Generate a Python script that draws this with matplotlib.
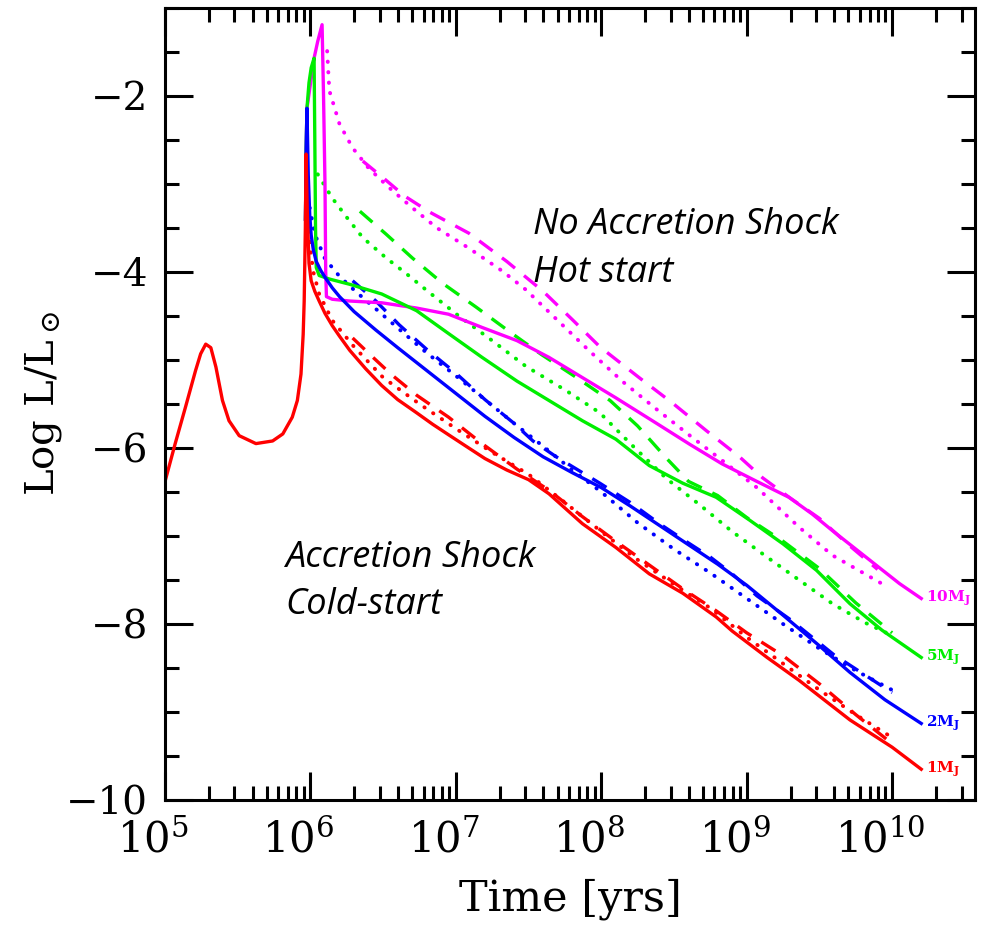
import numpy as np
import matplotlib
matplotlib.use("Agg")
import matplotlib.pyplot as plt
from matplotlib.ticker import MultipleLocator, LogLocator, NullFormatter
from matplotlib.transforms import ScaledTranslation

plt.rcParams['font.family'] = 'DejaVu Serif'
plt.rcParams['mathtext.fontset'] = 'dejavuserif'

# log10(time / yr) and log10(L/Lsun) for each track
# 1 M_J
red_solid_t = [5.005, 5.07, 5.14, 5.21, 5.245, 5.28, 5.315, 5.35, 5.395, 5.44, 5.51, 5.625,
               5.74, 5.81, 5.875, 5.91, 5.935, 5.95, 5.957, 5.965, 5.970, 5.978, 5.99,
               6.005, 6.03, 6.06, 6.1, 6.15, 6.2, 6.27, 6.38, 6.49, 6.6, 6.73, 6.84, 6.95,
               7.07, 7.2, 7.35, 7.5, 7.64, 7.87, 8.10, 8.33, 8.56, 8.79, 8.90, 9.14, 9.36,
               9.71, 10.0, 10.2]
red_solid_L = [-6.35, -5.95, -5.54, -5.12, -4.93, -4.82, -4.86, -5.08, -5.46, -5.69, -5.86,
               -5.95, -5.92, -5.84, -5.65, -5.46, -5.16, -4.71, -4.33, -3.5, -2.66, -3.3,
               -3.9, -4.1, -4.22, -4.33, -4.47, -4.61, -4.73, -4.89, -5.1, -5.29, -5.45,
               -5.6, -5.73, -5.85, -5.98, -6.12, -6.25, -6.36, -6.52, -6.86, -7.13, -7.43,
               -7.65, -7.92, -8.08, -8.38, -8.64, -9.09, -9.4, -9.65]
red_dot_t = [5.985, 6.0, 6.02, 6.06, 6.15, 6.3, 6.5, 6.75, 7.0, 7.25, 7.5, 7.75, 8.0, 8.25,
             8.5, 8.75, 9.0, 9.25, 9.5, 9.75, 10.0]
red_dot_L = [-3.3, -3.75, -4.0, -4.25, -4.55, -4.85, -5.2, -5.5, -5.78, -6.05, -6.3, -6.62,
             -6.95, -7.27, -7.55, -7.82, -8.15, -8.45, -8.75, -9.03, -9.29]
red_dash_t = [6.29, 6.43, 6.56, 6.73, 6.95, 7.18, 7.42, 7.64, 7.87, 8.1, 8.33, 8.56, 8.79,
              9.0, 9.25, 9.5, 9.75, 10.0]
red_dash_L = [-4.75, -4.97, -5.17, -5.4, -5.65, -5.95, -6.24, -6.48, -6.78, -7.06, -7.33,
              -7.6, -7.85, -8.1, -8.36, -8.68, -9.03, -9.36]

# 2 M_J
blue_solid_t = [5.966, 5.970, 5.976, 5.985, 5.995, 6.005, 6.02, 6.04, 6.07, 6.1, 6.15, 6.2,
                6.3, 6.45, 6.6, 6.8, 7.0, 7.2, 7.4, 7.6, 7.8, 8.0, 8.2, 8.4, 8.6, 8.8, 9.0,
                9.25, 9.48, 9.71, 9.95, 10.2]
blue_solid_L = [-3.4, -2.66, -2.14, -2.9, -3.35, -3.58, -3.75, -3.88, -3.98, -4.06, -4.18,
                -4.28, -4.45, -4.66, -4.86, -5.12, -5.38, -5.64, -5.88, -6.1, -6.28, -6.45,
                -6.66, -6.88, -7.1, -7.32, -7.56, -7.9, -8.22, -8.55, -8.86, -9.13]
blue_dot_t = [5.995, 6.03, 6.1, 6.2, 6.31, 6.45, 6.61, 6.8, 7.0, 7.2, 7.4, 7.6, 7.8, 8.0,
              8.25, 8.5, 8.75, 9.0, 9.25, 9.5, 9.75, 10.0]
blue_dot_L = [-3.27, -3.57, -3.85, -4.05, -4.22, -4.42, -4.65, -4.92, -5.18, -5.45, -5.72,
              -5.98, -6.25, -6.5, -6.85, -7.15, -7.42, -7.71, -8.0, -8.28, -8.53, -8.75]
blue_dash_t = [6.29, 6.45, 6.61, 6.8, 7.0, 7.2, 7.4, 7.53, 7.69, 7.85, 7.99, 8.2, 8.4, 8.6,
               8.75, 8.9, 9.07, 9.3, 9.6, 10.0]
blue_dash_L = [-4.1, -4.33, -4.6, -4.88, -5.15, -5.45, -5.72, -5.92, -6.1, -6.26, -6.4,
               -6.62, -6.86, -7.08, -7.24, -7.43, -7.68, -7.95, -8.35, -8.78]

# 5 M_J
green_solid_t = [5.966, 5.970, 5.976, 5.99, 6.005, 6.025, 6.03, 6.035, 6.04, 6.06, 6.13,
                 6.27, 6.49, 6.73, 6.95, 7.18, 7.42, 7.64, 7.87, 8.1, 8.33, 8.56, 8.79,
                 9.02, 9.25, 9.48, 9.71, 9.93, 10.2]
green_solid_L = [-3.4, -2.66, -2.14, -1.85, -1.68, -1.57, -2.5, -3.5, -3.95, -4.04, -4.08,
                 -4.14, -4.25, -4.44, -4.70, -4.97, -5.24, -5.46, -5.69, -5.9, -6.2, -6.40,
                 -6.56, -6.82, -7.09, -7.39, -7.77, -8.07, -8.38]
green_dot_t = [6.05, 6.15, 6.25, 6.36, 6.52, 6.66, 6.8, 7.02, 7.25, 7.48, 7.76, 7.99, 8.2,
               8.45, 8.68, 8.9, 9.14, 9.36, 9.59, 9.82, 9.96]
green_dot_L = [-2.89, -3.16, -3.38, -3.61, -3.84, -4.02, -4.21, -4.5, -4.78, -5.07, -5.35,
               -5.6, -5.95, -6.35, -6.65, -6.95, -7.24, -7.5, -7.77, -7.99, -8.10]
green_dash_t = [6.34, 6.52, 6.7, 6.91, 7.14, 7.37, 7.59, 7.83, 8.06, 8.25, 8.45, 8.6, 8.8,
                9.0, 9.25, 9.5, 9.75, 10.0]
green_dash_L = [-3.31, -3.57, -3.84, -4.13, -4.4, -4.68, -4.94, -5.2, -5.46, -5.75, -6.12,
                -6.38, -6.54, -6.79, -7.06, -7.37, -7.76, -8.1]

# 10 M_J
mag_solid_t = [5.966, 5.970, 5.976, 6.025, 6.05, 6.08, 6.09, 6.1, 6.105, 6.11, 6.15, 6.27,
               6.49, 6.73, 6.95, 7.18, 7.42, 7.64, 7.87, 8.1, 8.38, 8.61, 8.83, 9.07, 9.29,
               9.45, 9.59, 9.82, 10.05, 10.2]
mag_solid_L = [-3.4, -2.66, -2.14, -1.57, -1.38, -1.19, -2.0, -3.0, -4.0, -4.28, -4.31,
               -4.33, -4.35, -4.41, -4.48, -4.63, -4.78, -4.97, -5.20, -5.43, -5.72, -5.96,
               -6.18, -6.38, -6.56, -6.75, -6.94, -7.24, -7.54, -7.71]
mag_dot_t = [6.115, 6.13, 6.2, 6.29, 6.4, 6.54, 6.7, 6.87, 7.09, 7.32, 7.48, 7.7, 7.92,
             8.15, 8.38, 8.61, 8.83, 9.07, 9.36, 9.59, 9.97]
mag_dot_L = [-1.49, -1.94, -2.32, -2.59, -2.82, -3.04, -3.27, -3.50, -3.73, -3.99, -4.2,
             -4.55, -4.9, -5.25, -5.56, -5.86, -6.14, -6.45, -6.9, -7.22, -7.58]
mag_dash_t = [6.36, 6.5, 6.65, 6.82, 7.09, 7.35, 7.6, 7.8, 7.99, 8.26, 8.49, 8.72, 8.95,
              9.11, 9.3, 9.5, 9.7, 9.9]
mag_dash_L = [-2.74, -2.93, -3.14, -3.32, -3.56, -3.88, -4.22, -4.54, -4.85, -5.2, -5.49,
              -5.8, -6.1, -6.34, -6.57, -6.8, -7.1, -7.38]

tracks = [
    ("10M", "#ff00ff", mag_solid_t, mag_solid_L, mag_dash_t, mag_dash_L, mag_dot_t, mag_dot_L),
    ("5M", "#00ee00", green_solid_t, green_solid_L, green_dash_t, green_dash_L, green_dot_t, green_dot_L),
    ("2M", "#0000ff", blue_solid_t, blue_solid_L, blue_dash_t, blue_dash_L, blue_dot_t, blue_dot_L),
    ("1M", "#ff0000", red_solid_t, red_solid_L, red_dash_t, red_dash_L, red_dot_t, red_dot_L),
]

fig = plt.figure(figsize=(9.84, 9.25), dpi=100)
ax = fig.add_axes([0.1677, 0.1351, 0.8232, 0.8563])

lw = 2.4
for name, col, st, sL, dt, dL, ot, oL in tracks:
    ax.plot(10 ** np.array(ot), oL, color=col, lw=lw + 0.4, linestyle=(0, (0.1, 2.6)),
            dash_capstyle='round')
for name, col, st, sL, dt, dL, ot, oL in tracks:
    ax.plot(10 ** np.array(dt), dL, color=col, lw=lw, linestyle=(0, (5, 3.5)))
for name, col, st, sL, dt, dL, ot, oL in tracks:
    ax.plot(10 ** np.array(st), sL, color=col, lw=lw, solid_joinstyle='round')
    ax.text(10 ** (st[-1] + 0.03), sL[-1], name + r"$_\mathbf{J}$", color=col,
            fontsize=11, fontweight='bold', ha='left', va='center')

ax.set_xscale('log')
ax.set_xlim(1e5, 10 ** 10.57)
ax.set_ylim(-10, -1)
ax.yaxis.set_major_locator(MultipleLocator(2))
ax.yaxis.set_minor_locator(MultipleLocator(0.5))
ax.xaxis.set_major_locator(LogLocator(base=10, numticks=20))
ax.xaxis.set_minor_locator(LogLocator(base=10, subs=np.arange(2, 10), numticks=20))
ax.xaxis.set_minor_formatter(NullFormatter())

ax.tick_params(which='both', direction='in', top=True, right=True, width=2.2)
ax.tick_params(which='major', length=20)
ax.tick_params(which='minor', length=10)
ax.tick_params(axis='x', pad=14, labelsize=30)
ax.tick_params(axis='y', pad=12, labelsize=28)
for sp in ax.spines.values():
    sp.set_linewidth(2.2)

# nudge the decade labels a little to the left
shift = ScaledTranslation(-0.12, 0, fig.dpi_scale_trans)
for lab in ax.get_xticklabels():
    lab.set_transform(lab.get_transform() + shift)

ax.set_xlabel("Time [yrs]", fontsize=31, labelpad=12)
ax.set_ylabel(r"Log L/L$_\odot$", fontsize=29)
ax.yaxis.set_label_coords(-0.125, 0.5)

ann = dict(fontsize=26, style='italic', family='Open Sans', ha='left', va='center',
           transform=ax.transAxes)
ax.text(0.454, 0.726, "No Accretion Shock", **ann)
ax.text(0.454, 0.665, "Hot start", **ann)
ax.text(0.148, 0.3056, "Accretion Shock", **ann)
ax.text(0.148, 0.246, "Cold-start", **ann)

fig.savefig("out.png", dpi=100)
